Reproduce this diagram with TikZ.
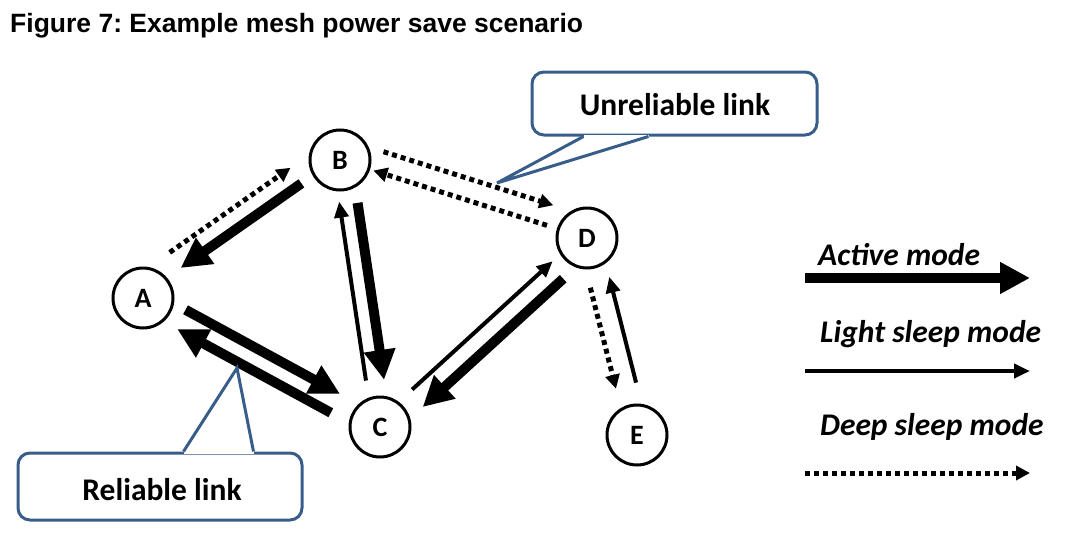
\documentclass[tikz,border=0pt]{standalone}
\usepackage{fontspec}
\setmainfont{Carlito}
\newfontfamily\titlefont{Liberation Sans}
\usetikzlibrary{arrows.meta,calc}
\definecolor{cblue}{RGB}{56,93,138}
\frenchspacing
\tikzset{
  mnode/.style={circle, draw, line width=3pt, minimum size=60pt, inner sep=0pt, font=\bfseries\fontsize{28}{28}\selectfont},
  activearr/.style={line width=10pt, -{Triangle[length=30pt,width=30pt]}},
  lightarr/.style={line width=4pt, -{Triangle[length=16pt,width=14pt]}},
  deeparr/.style={line width=5pt, dash pattern=on 5pt off 4pt, -{Triangle[length=14pt,width=14pt]}},
  cobox/.style={draw=cblue, line width=3pt, rounded corners=12pt, fill=white, inner sep=0pt},
  cotext/.style={font=\bfseries\fontsize{31.5}{32}\selectfont, inner sep=0pt, anchor=base},
  legtext/.style={font=\bfseries\itshape\fontsize{31.5}{32}\selectfont, inner sep=0pt, anchor=base west},
  coline/.style={draw=cblue, line width=3pt, line join=miter},
}
\newcommand\lnk[6]{\draw[#1] ($(#2)!#4!(#3)!#6!90:(#3)$) -- ($(#3)!#5!(#2)!#6!-90:(#2)$);}
\begin{document}
\begin{tikzpicture}[x=1pt,y=-1pt]
\useasboundingbox (0,0) rectangle (1074,538);
\node[anchor=base west, inner sep=0pt, font=\titlefont\bfseries\fontsize{26.5}{28}\selectfont] (title) at (10,32) {Figure 7: Example mesh power save scenario};

% nodes
\node[mnode] (A) at (143,298) {A};
\node[mnode] (B) at (340,160) {B};
\node[mnode] (C) at (380,427) {C};
\node[mnode] (D) at (587,238) {D};
\node[mnode] (E) at (637,435) {E};

% links
\lnk{deeparr}{A}{B}{48pt}{45pt}{22pt}
\lnk{activearr}{B}{A}{45pt}{48pt}{-3pt}
\lnk{activearr}{B}{C}{45pt}{46pt}{11pt}
\lnk{lightarr}{C}{B}{48pt}{41pt}{7pt}
\lnk{activearr}{A}{C}{43pt}{51pt}{10pt}
\lnk{activearr}{C}{A}{50pt}{45pt}{11pt}
\lnk{deeparr}{B}{D}{39pt}{42pt}{21pt}
\lnk{deeparr}{D}{B}{42pt}{35pt}{0pt}
\lnk{lightarr}{C}{D}{49pt}{41pt}{6pt}
\lnk{activearr}{D}{C}{45pt}{45pt}{14pt}
\lnk{deeparr}{D}{E}{49pt}{50pt}{-9pt}
\lnk{lightarr}{E}{D}{51pt}{43pt}{-12pt}

% unreliable callout
\node[cobox, minimum width=285pt, minimum height=63pt] (ubox) at (674.5,103.5) {};
\node[cotext] (utext) at (675,115) {Unreliable link};
\coordinate (up1) at ($(ubox.south west)+(53,0)$);
\coordinate (up2) at ($(ubox.south west)+(118,0)$);
\coordinate (utip) at (497,183);
\draw[white, line width=4pt] (up1) -- (up2);
\draw[coline] (up1) -- (utip) -- (up2);

% reliable callout
\node[cobox, minimum width=284pt, minimum height=67pt] (rbox) at (160,486.5) {};
\node[cotext] (rtext) at (162,500) {Reliable link};
\coordinate (rp1) at ($(rbox.north west)+(167,0)$);
\coordinate (rp2) at ($(rbox.north west)+(237,0)$);
\coordinate (rtip) at (237,368);
\draw[white, line width=4pt] (rp1) -- (rp2);
\draw[coline] (rp1) -- (rtip) -- (rp2);

% legend
\node[legtext] (lact) at (818,265) {Active mode};
\node[legtext] (llight) at (820,342) {Light sleep mode};
\node[legtext] (ldeep) at (820,435) {Deep sleep mode};
\coordinate (la1) at (805,278);
\coordinate (la2) at (1030,278);
\coordinate (ll1) at (805,371);
\coordinate (ll2) at (1030,371);
\coordinate (ld1) at (805,473);
\coordinate (ld2) at (1030,473);
\draw[activearr] (la1) -- (la2);
\draw[lightarr] (ll1) -- (ll2);
\draw[deeparr] (ld1) -- (ld2);
\end{tikzpicture}
\end{document}
